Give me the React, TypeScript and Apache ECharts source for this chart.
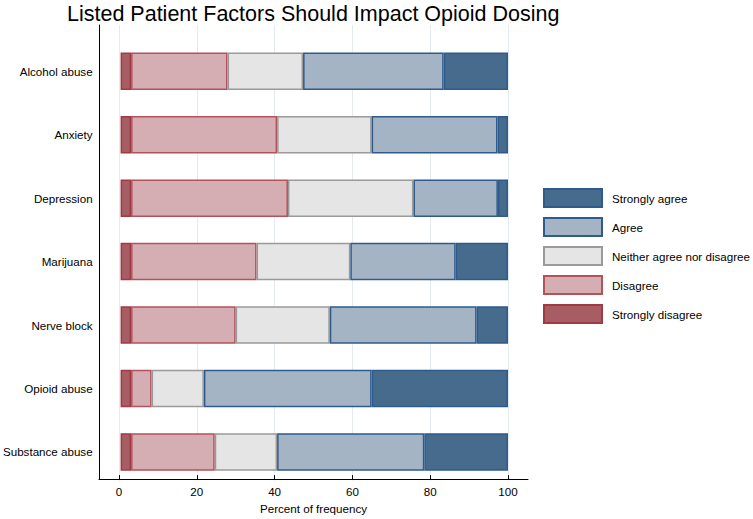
import React, { useEffect, useRef } from "react";
import * as echarts from "echarts";

const categories = [
  "Alcohol abuse",
  "Anxiety",
  "Depression",
  "Marijuana",
  "Nerve block",
  "Opioid abuse",
  "Substance abuse",
];

const stronglyDisagree = [2.7, 2.7, 2.7, 2.7, 2.7, 2.7, 2.7];
const disagree = [24.9, 37.7, 40.5, 32.4, 27.0, 5.3, 21.6];
const neither = [19.5, 24.4, 32.4, 24.2, 24.3, 13.5, 16.1];
const agree = [36.3, 32.5, 21.8, 27.2, 37.9, 43.3, 38.0];
const stronglyAgree = [16.6, 2.7, 2.6, 13.5, 8.1, 35.2, 21.6];

const xMin = 0;
const xMax = 100;
const xStep = 20;

const FONT = "'Liberation Sans', Arial, Helvetica, sans-serif";

export default function App() {
  const ref = useRef<HTMLDivElement>(null);

  useEffect(() => {
    if (!ref.current) return;
    const chart = echarts.init(ref.current, null, { renderer: "svg" });

    const seriesDefs = [
      { name: "Strongly disagree", data: stronglyDisagree, fill: "#a65d63", border: "#a03a44" },
      { name: "Disagree", data: disagree, fill: "#d4aeb2", border: "#b4525b" },
      { name: "Neither agree nor disagree", data: neither, fill: "#e5e5e5", border: "#9a9a9a" },
      { name: "Agree", data: agree, fill: "#a4b4c5", border: "#2d5b8c" },
      { name: "Strongly agree", data: stronglyAgree, fill: "#476b8c", border: "#2d5b8c" },
    ];

    chart.setOption({
      animation: false,
      backgroundColor: "#ffffff",
      textStyle: { fontFamily: FONT },
      title: {
        text: "Listed Patient Factors Should Impact Opioid Dosing",
        left: 67,
        top: 3,
        padding: 0,
        textStyle: { fontFamily: FONT, fontSize: 21.5, fontWeight: "normal", color: "#000" },
      },
      legend: {
        orient: "vertical",
        left: 543,
        top: 188,
        padding: 0,
        itemWidth: 58,
        itemHeight: 18,
        itemGap: 9,
        icon: "rect",
        textStyle: { fontFamily: FONT, fontSize: 11.6, color: "#000", padding: [0, 0, 0, 5] },
        data: [
          "Strongly agree",
          "Agree",
          "Neither agree nor disagree",
          "Disagree",
          "Strongly disagree",
        ],
        selectedMode: false,
      },
      grid: [
        { left: 99, top: 25, width: 429, height: 454 },
        { left: 119, top: 25, width: 389, height: 454 },
        { left: 119, top: 39.6, width: 389, height: 444 },
      ],
      xAxis: [
        {
          gridIndex: 0,
          type: "value",
          min: 0,
          max: 1,
          axisLine: { show: true, lineStyle: { color: "#000", width: 1 } },
          axisTick: { show: false },
          axisLabel: { show: false },
          splitLine: { show: false },
        },
        {
          gridIndex: 1,
          type: "value",
          min: xMin,
          max: xMax,
          interval: xStep,
          name: "Percent of frequency",
          nameLocation: "middle",
          nameGap: 24,
          nameTextStyle: { fontFamily: FONT, fontSize: 11.6, color: "#000" },
          axisLine: { show: false },
          axisTick: { show: true, inside: false, length: 5, lineStyle: { color: "#000", width: 1 } },
          axisLabel: {
            margin: 10,
            fontFamily: FONT,
            fontSize: 11.6,
            color: "#000",
          },
          splitLine: { show: true, lineStyle: { color: "#e2ebf1", width: 1 } },
        },
        {
          gridIndex: 2,
          type: "value",
          min: xMin,
          max: xMax,
          show: false,
        },
      ],
      yAxis: [
        {
          gridIndex: 0,
          type: "value",
          min: 0,
          max: 1,
          axisLine: { show: true, lineStyle: { color: "#000", width: 1 } },
          axisTick: { show: false },
          axisLabel: { show: false },
          splitLine: { show: false },
        },
        {
          gridIndex: 1,
          type: "value",
          min: 0,
          max: 1,
          show: false,
          splitLine: { show: false },
        },
        {
          gridIndex: 2,
          type: "category",
          data: categories,
          inverse: true,
          axisLine: { show: false },
          axisTick: { show: false },
          axisLabel: { margin: 28, fontFamily: FONT, fontSize: 11.6, color: "#000" },
          splitLine: { show: false },
        },
      ],
      series: seriesDefs.map((s) => ({
        name: s.name,
        type: "bar",
        stack: "total",
        xAxisIndex: 2,
        yAxisIndex: 2,
        barWidth: 37.5,
        data: s.data,
        itemStyle: { color: s.fill, borderColor: s.border, borderWidth: 1.5 },
        emphasis: { disabled: true },
      })),
    });

    return () => chart.dispose();
  }, []);

  return (
    <div
      ref={ref}
      style={{ position: "fixed", left: 0, top: 0, width: 753, height: 519 }}
    />
  );
}
